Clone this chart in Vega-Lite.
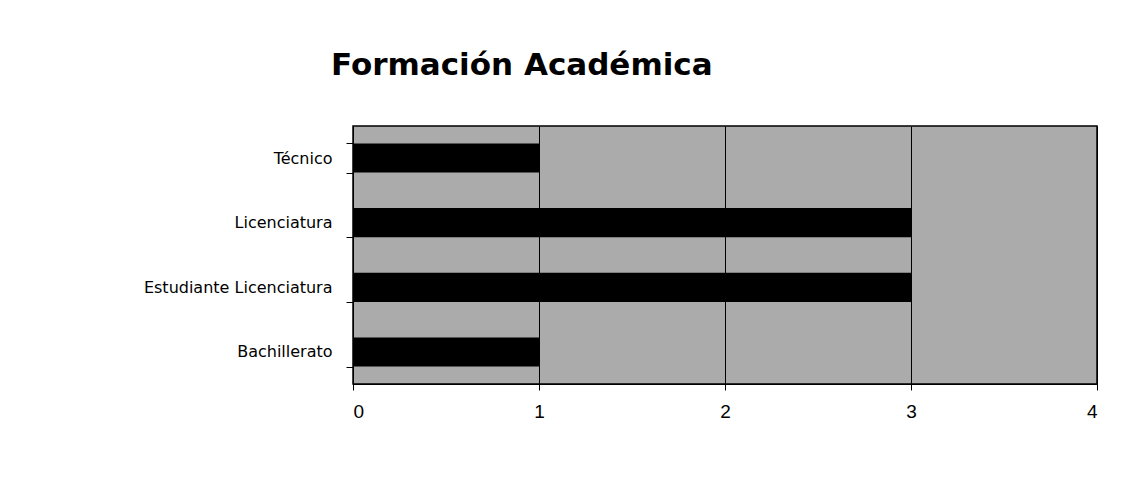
{
  "$schema": "https://vega.github.io/schema/vega-lite/v6.json",
  "autosize": {"type": "none"},
  "width": 744,
  "height": 258,
  "padding": {"left": 353, "top": 126, "right": 46, "bottom": 94},
  "background": "white",
  "title": {
    "text": "Formación Académica",
    "anchor": "start",
    "frame": "group",
    "dx": -22,
    "offset": 36,
    "font": "DejaVu Sans",
    "fontSize": 31,
    "fontWeight": "bold",
    "color": "black"
  },
  "data": {
    "values": [
      {"categoria": "Técnico", "valor": 1},
      {"categoria": "Licenciatura", "valor": 3},
      {"categoria": "Estudiante Licenciatura", "valor": 3},
      {"categoria": "Bachillerato", "valor": 1}
    ]
  },
  "mark": {"type": "bar", "color": "black"},
  "encoding": {
    "y": {
      "field": "categoria",
      "type": "nominal",
      "sort": ["Técnico", "Licenciatura", "Estudiante Licenciatura", "Bachillerato"],
      "scale": {"paddingInner": 0.55, "paddingOuter": 0.27},
      "axis": {
        "title": null,
        "domainColor": "black",
        "tickColor": "black",
        "tickSize": 7,
        "labelFont": "DejaVu Sans",
        "labelFontSize": 16,
        "labelColor": "black",
        "labelPadding": 14,
        "labelLimit": 400,
        "grid": false,
        "tickBand": "extent"
      }
    },
    "x": {
      "field": "valor",
      "type": "quantitative",
      "scale": {"domain": [0, 4], "nice": false},
      "axis": {
        "title": null,
        "values": [0, 1, 2, 3, 4],
        "format": "d",
        "domainColor": "black",
        "tickColor": "black",
        "tickSize": 6,
        "labelFont": "Liberation Sans",
        "labelFontSize": 19,
        "labelColor": "black",
        "labelPadding": 12,
        "grid": true,
        "gridColor": "black",
        "gridOpacity": 1,
        "gridWidth": 1
      }
    }
  },
  "config": {
    "view": {"fill": "#ababab", "stroke": "black", "strokeWidth": 1.5}
  }
}
